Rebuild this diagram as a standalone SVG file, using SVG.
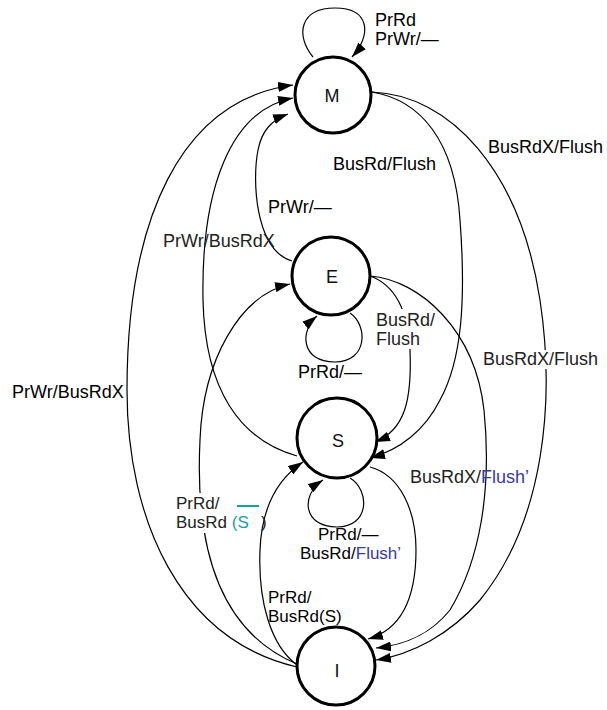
<svg xmlns="http://www.w3.org/2000/svg" width="607" height="710" viewBox="0 0 607 710">
<style>
.node{fill:#fff;stroke:#000;stroke-width:3}
.nl{font-family:"Liberation Sans",Arial,sans-serif;font-size:18px;fill:#111;text-anchor:middle}
.e{fill:none;stroke:#000;stroke-width:1.2;marker-end:url(#ah)}
.t{font-family:"Liberation Sans",Arial,sans-serif;font-size:18px;fill:#000}
.sm{font-size:17px}
.lt{fill:#222}
.blue{fill:#3a3a9e}
.cyan{fill:#1a9e9e}
.bg{fill:#fff}
</style>
<defs>
<marker id="ah" markerUnits="userSpaceOnUse" markerWidth="15" markerHeight="10" refX="15" refY="5" orient="auto">
<path d="M0,0 L15,5 L0,10 z" fill="#000"/>
</marker>
</defs>
<rect width="607" height="710" fill="#fff"/>
<g id="connectors">
<path class="e" d="M313,57 C295,35 300,8 335,8 C370,8 372,35 352,57"/>
<path class="e" d="M297,667 C180,640 127,520 127,390 C127,220 180,100 293,85"/>
<path class="e" d="M297,456 C240,440 205,390 203,300 C201,190 230,110 293,98"/>
<path class="e" d="M292,261 C255,250 252,180 258,150 C262,130 272,120 288,114"/>
<path class="e" d="M297,664 C215,630 195,540 200,440 C203,360 240,295 290,284"/>
<path class="e" d="M372,92 C420,100 455,140 460,220 C466,300 462,360 440,400 C425,430 400,450 370,458"/>
<path class="e" d="M372,92 C450,95 520,170 540,300 C555,400 545,520 480,600 C450,635 410,655 376,660"/>
<path class="e" d="M370,276 C395,285 408,310 410,350 C412,400 405,430 375,442"/>
<path class="e" d="M370,276 C420,280 475,330 484,410 C492,490 480,560 450,610 C430,635 405,645 376,648"/>
<path class="e" d="M350,313 C368,325 368,362 335,362 C300,362 300,330 317,316"/>
<path class="e" d="M350,478 C370,490 370,527 337,527 C303,527 300,495 323,480"/>
<path class="e" d="M370,467 C400,475 416,510 416,550 C416,600 400,630 368,639"/>
<path class="e" d="M297,665 C270,645 258,600 260,550 C262,500 282,476 303,462"/>
</g>
<g id="labels">
<text class="t" x="375" y="26">PrRd</text>
<text class="t" x="375" y="45">PrWr/—</text>
<text class="t" x="333" y="170">BusRd/Flush</text>
<text class="t" x="488" y="153">BusRdX/Flush</text>
<text class="t" x="268" y="213">PrWr/—</text>
<text class="t lt" x="163" y="247">PrWr/BusRdX</text>
<text class="t" x="12" y="398">PrWr/BusRdX</text>
<rect class="bg" x="374" y="309" width="58" height="40"/>
<text class="t lt" x="376" y="326">BusRd/</text>
<text class="t lt" x="376" y="345">Flush</text>
<text class="t" x="298" y="378">PrRd/—</text>
<rect class="bg" x="481" y="350" width="121" height="19"/>
<text class="t lt" x="483" y="365">BusRdX/Flush</text>
<text class="t lt" x="410" y="483">BusRdX/<tspan class="blue">Flush’</tspan></text>
<rect class="bg" x="174" y="493" width="58" height="40"/>
<text class="t sm lt" x="176" y="509">PrRd/</text>
<text class="t sm lt" x="176" y="528">BusRd <tspan class="cyan">(S</tspan></text>
<line x1="237" y1="506" x2="259" y2="506" stroke="#1a9e9e" stroke-width="2"/>
<text class="t sm lt" x="261" y="528">)</text>
<text class="t sm" x="318" y="540">PrRd/—</text>
<text class="t sm" x="300" y="559">BusRd/<tspan class="blue">Flush’</tspan></text>
<text class="t sm" x="268" y="603">PrRd/</text>
<text class="t sm" x="268" y="622">BusRd(S)</text>
</g>
<g id="node-M"><circle class="node" cx="333" cy="95" r="38"/><text class="nl" x="332" y="102">M</text></g>
<g id="node-E"><circle class="node" cx="331" cy="276" r="39"/><text class="nl" x="332" y="283">E</text></g>
<g id="node-S"><circle class="node" cx="337" cy="438" r="40"/><text class="nl" x="338" y="447">S</text></g>
<g id="node-I"><circle class="node" cx="336" cy="666" r="39"/><text class="nl" x="337" y="677">I</text></g>
</svg>
